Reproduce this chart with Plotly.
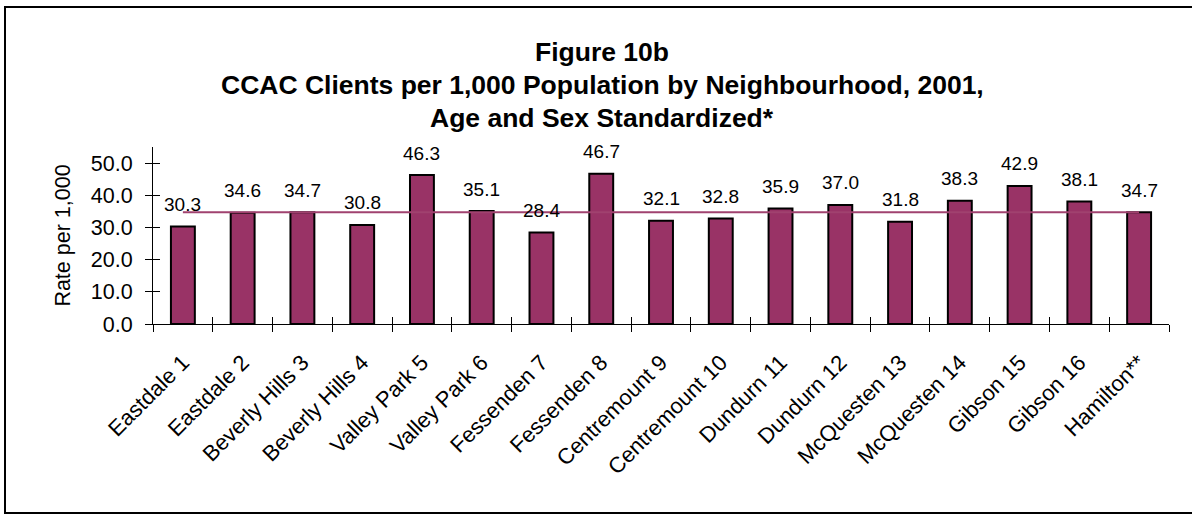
import plotly.graph_objects as go

categories = ["Eastdale 1", "Eastdale 2", "Beverly Hills 3", "Beverly Hills 4",
              "Valley Park 5", "Valley Park 6", "Fessenden 7", "Fessenden 8",
              "Centremount 9", "Centremount 10", "Dundurn 11", "Dundurn 12",
              "McQuesten 13", "McQuesten 14", "Gibson 15", "Gibson 16", "Hamilton**"]
rates = [30.3, 34.6, 34.7, 30.8, 46.3, 35.1, 28.4, 46.7, 32.1, 32.8,
         35.9, 37.0, 31.8, 38.3, 42.9, 38.1, 34.7]
hamilton_rate = 34.7
y_ticks = [0, 10, 20, 30, 40, 50]
title_lines = ["Figure 10b",
               "CCAC Clients per 1,000 Population by Neighbourhood, 2001,",
               "Age and Sex Standardized*"]

FONT = "Arial, 'Liberation Sans', sans-serif"
BAR = "#993366"

# plot area geometry (pixels)
L, R, T, B = 153, 1169, 147, 324
W, H = 1192, 515
pw, ph = R - L, B - T

def px(x):
    return (x - L) / pw

def py(y):
    return (B - y) / ph

fig = go.Figure()
fig.add_trace(go.Bar(
    x=categories, y=rates,
    marker=dict(color=BAR, line=dict(color="black", width=2)),
    width=0.4, showlegend=False, hoverinfo="x+y"))
fig.add_trace(go.Scatter(
    x=categories, y=[hamilton_rate] * len(categories),
    mode="lines", line=dict(color="#A0426F", width=2),
    showlegend=False, hoverinfo="skip"))
# ghost trace for inner ticks
fig.add_trace(go.Scatter(x=categories, y=rates, xaxis="x2", yaxis="y2",
                         mode="markers", marker=dict(opacity=0),
                         showlegend=False, hoverinfo="skip"))

annotations = []
for c, v in zip(categories, rates):
    annotations.append(dict(x=c, y=v, text=f"{v:.1f}", showarrow=False,
                            yanchor="middle", yshift=22,
                            font=dict(family=FONT, size=19, color="black")))
for line, yp in zip(title_lines, [52, 85, 118]):
    annotations.append(dict(x=px(602), y=py(yp), xref="paper", yref="paper",
                            text=f"<b>{line}</b>", showarrow=False,
                            xanchor="center", yanchor="middle",
                            font=dict(family=FONT, size=26.5, color="black")))

fig.update_layout(
    width=W, height=H,
    margin=dict(l=L, r=W - R, t=T, b=H - B),
    paper_bgcolor="white", plot_bgcolor="white",
    font=dict(family=FONT, color="black"),
    bargap=0.6,
    xaxis=dict(type="category", showline=True, linecolor="black", linewidth=1,
               ticks="outside", ticklen=7, tickcolor="black", tickson="boundaries",
               tickangle=-45, tickfont=dict(family=FONT, size=22, color="black"),
               ticklabelstandoff=16,
               showgrid=False, zeroline=False, range=[-0.5, 16.5]),
    yaxis=dict(range=[0, 55], tickvals=y_ticks, tickformat=".1f",
               showline=True, linecolor="black", linewidth=1,
               ticks="outside", ticklen=7, tickcolor="black",
               tickfont=dict(family=FONT, size=21.5, color="black"),
               ticklabelstandoff=8,
               showgrid=False, zeroline=False,
               title=dict(text="Rate per 1,000", standoff=14,
                          font=dict(family=FONT, size=21.5, color="black"))),
    xaxis2=dict(type="category", overlaying="x", matches="x", ticks="inside",
                ticklen=7, tickcolor="black", tickson="boundaries",
                showticklabels=False, showgrid=False, zeroline=False,
                showline=False, side="bottom", anchor="y2"),
    yaxis2=dict(overlaying="y", matches="y", ticks="inside", ticklen=7,
                tickcolor="black", tickvals=y_ticks, showticklabels=False,
                showgrid=False, zeroline=False, showline=False, anchor="x2"),
    annotations=annotations,
    shapes=[dict(type="rect", xref="paper", yref="paper",
                 x0=px(5), x1=px(1205), y0=py(513), y1=py(7),
                 line=dict(color="black", width=2), fillcolor="rgba(0,0,0,0)",
                 layer="below")],
)

fig.write_html("out.html", config={"displayModeBar": False},
               post_script="document.body.style.margin='0';document.body.style.overflow='hidden';")
